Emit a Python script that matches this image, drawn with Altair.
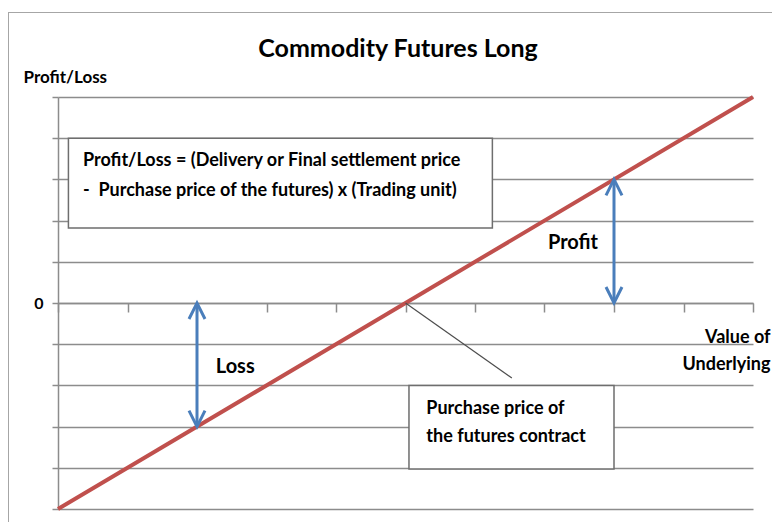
import altair as alt
import pandas as pd

# ---- data ----
underlying = [0, 10]
profit_loss = [-5, 5]

x_ticks = [0, 1, 2, 3, 4, 5, 6, 7, 8, 9, 10]
y_ticks = [-5, -4, -3, -2, -1, 0, 1, 2, 3, 4, 5]

arrow_x = [2, 8]
arrow_low = [-3, 0]
arrow_high = [0, 3]

arrow_labels = ["Loss", "Profit"]
arrow_label_x = [2.27, 7.05]
arrow_label_y = [-1.55, 1.46]

box_x1 = [0.15, 5.05]
box_x2 = [6.25, 8.0]
box_y1 = [4.0, -2.0]
box_y2 = [1.82, -4.03]

box_text = [
    "Profit/Loss = (Delivery or Final settlement price",
    "-\u00a0 Purchase price of the futures) x (Trading unit)",
    "Purchase price of",
    "the futures contract",
]
box_text_x = [0.36, 0.36, 5.3, 5.3]
box_text_y = [3.45, 2.72, -2.57, -3.25]

leader_x = [5.0]
leader_x2 = [6.53]
leader_y = [0.0]
leader_y2 = [-1.82]

chart_title = "Commodity Futures Long"

FONT = "Lato"
GRID = "#8c8c8c"
W, H = 695, 412

xs = alt.Scale(domain=[0, 10], nice=False, zero=False)
ys = alt.Scale(domain=[-5, 5], nice=False, zero=False)

line_df = pd.DataFrame({"x": underlying, "y": profit_loss})
shaft_df = pd.DataFrame({"x": arrow_x, "y": arrow_low, "y2": arrow_high})
up_df = pd.DataFrame({"x": arrow_x, "y": arrow_high})
down_df = pd.DataFrame({"x": arrow_x, "y": arrow_low})
lab_df = pd.DataFrame({"x": arrow_label_x, "y": arrow_label_y, "t": arrow_labels})
box_df = pd.DataFrame({"x": box_x1, "x2": box_x2, "y": box_y1, "y2": box_y2})
bt_df = pd.DataFrame({"x": box_text_x, "y": box_text_y, "t": box_text})
lead_df = pd.DataFrame({"x": leader_x, "x2": leader_x2, "y": leader_y, "y2": leader_y2})

x_axis = alt.Axis(
    orient="bottom", offset=-206, values=x_ticks, grid=False, labels=False,
    tickSize=9, tickColor=GRID, tickWidth=1.5, domainColor=GRID, domainWidth=1.5,
    title=["Value of", "Underlying"], titleFont=FONT, titleFontSize=18,
    titleFontWeight="bold", titleColor="#000000", titleAlign="right",
    titleBaseline="alphabetic", titleX=712, titleY=39, titleLineHeight=27,
)
y_axis = alt.Axis(
    values=y_ticks, grid=True, gridColor=GRID, gridWidth=1.5,
    tickSize=6, tickColor=GRID, tickWidth=1.5, domainColor=GRID, domainWidth=1.5,
    labelExpr="datum.value === 0 ? '0' : ''", labelFont=FONT, labelFontSize=16,
    labelFontWeight="bold", labelColor="#000000", labelPadding=9,
    title="Profit/Loss", titleFont=FONT, titleFontSize=17, titleFontWeight="bold",
    titleColor="#000000", titleAngle=0, titleAlign="left", titleBaseline="middle",
    titleX=-35, titleY=-20,
)

X = lambda: alt.X("x:Q", scale=xs)
Y = lambda: alt.Y("y:Q", scale=ys)

payoff = alt.Chart(line_df).mark_line(color="#c0504d", strokeWidth=4).encode(
    x=alt.X("x:Q", scale=xs, axis=x_axis),
    y=alt.Y("y:Q", scale=ys, axis=y_axis),
)

boxes = alt.Chart(box_df).mark_rect(fill="white", stroke="#6e6e6e", strokeWidth=1.5).encode(
    x=X(), x2="x2:Q", y=Y(), y2="y2:Q",
)

box_texts = alt.Chart(bt_df).mark_text(
    align="left", baseline="middle", font=FONT, fontSize=18, fontWeight="bold", color="#000000"
).encode(x=X(), y=Y(), text="t:N")

leader = alt.Chart(lead_df).mark_rule(color="#4d4d4d", strokeWidth=1.2).encode(
    x=X(), x2="x2:Q", y=Y(), y2="y2:Q",
)

BLUE = "#4a7ebb"
shafts = alt.Chart(shaft_df).mark_rule(color=BLUE, strokeWidth=3).encode(
    x=X(), y=Y(), y2="y2:Q",
)
heads_up = alt.Chart(up_df).mark_point(
    shape="M-1,2L0,0L1,2", size=256, filled=False, stroke=BLUE, strokeWidth=3, opacity=1
).encode(x=X(), y=Y())
heads_down = alt.Chart(down_df).mark_point(
    shape="M-1,-2L0,0L1,-2", size=256, filled=False, stroke=BLUE, strokeWidth=3, opacity=1
).encode(x=X(), y=Y())

labels = alt.Chart(lab_df).mark_text(
    align="left", baseline="middle", font=FONT, fontSize=20, fontWeight="bold", color="#000000"
).encode(x=X(), y=Y(), text="t:N")

one = pd.DataFrame({"t": [chart_title]})
title_mark = alt.Chart(one).mark_text(
    align="center", baseline="alphabetic", font=FONT, fontSize=25, fontWeight="bold", color="#000000"
).encode(x=alt.value(340), y=alt.value(-40), text="t:N")

border = alt.Chart(one).mark_rule(color="#a6a6a6", strokeWidth=1).encode(
    x=alt.value(-49.5), y=alt.value(-85), y2=alt.value(430)
)
border_top = alt.Chart(one).mark_rule(color="#a6a6a6", strokeWidth=1).encode(
    x=alt.value(-49.5), x2=alt.value(720), y=alt.value(-84.5)
)

chart = alt.layer(
    payoff, boxes, box_texts, leader, shafts, heads_up, heads_down, labels,
    title_mark, border, border_top
).properties(
    width=W, height=H,
    autosize=alt.AutoSizeParams(type="none"),
    padding={"left": 50, "top": 89, "right": 19, "bottom": 13},
).configure(background="white").configure_view(stroke=None)

chart.save("out.html", embed_options={"renderer": "svg", "actions": False})
